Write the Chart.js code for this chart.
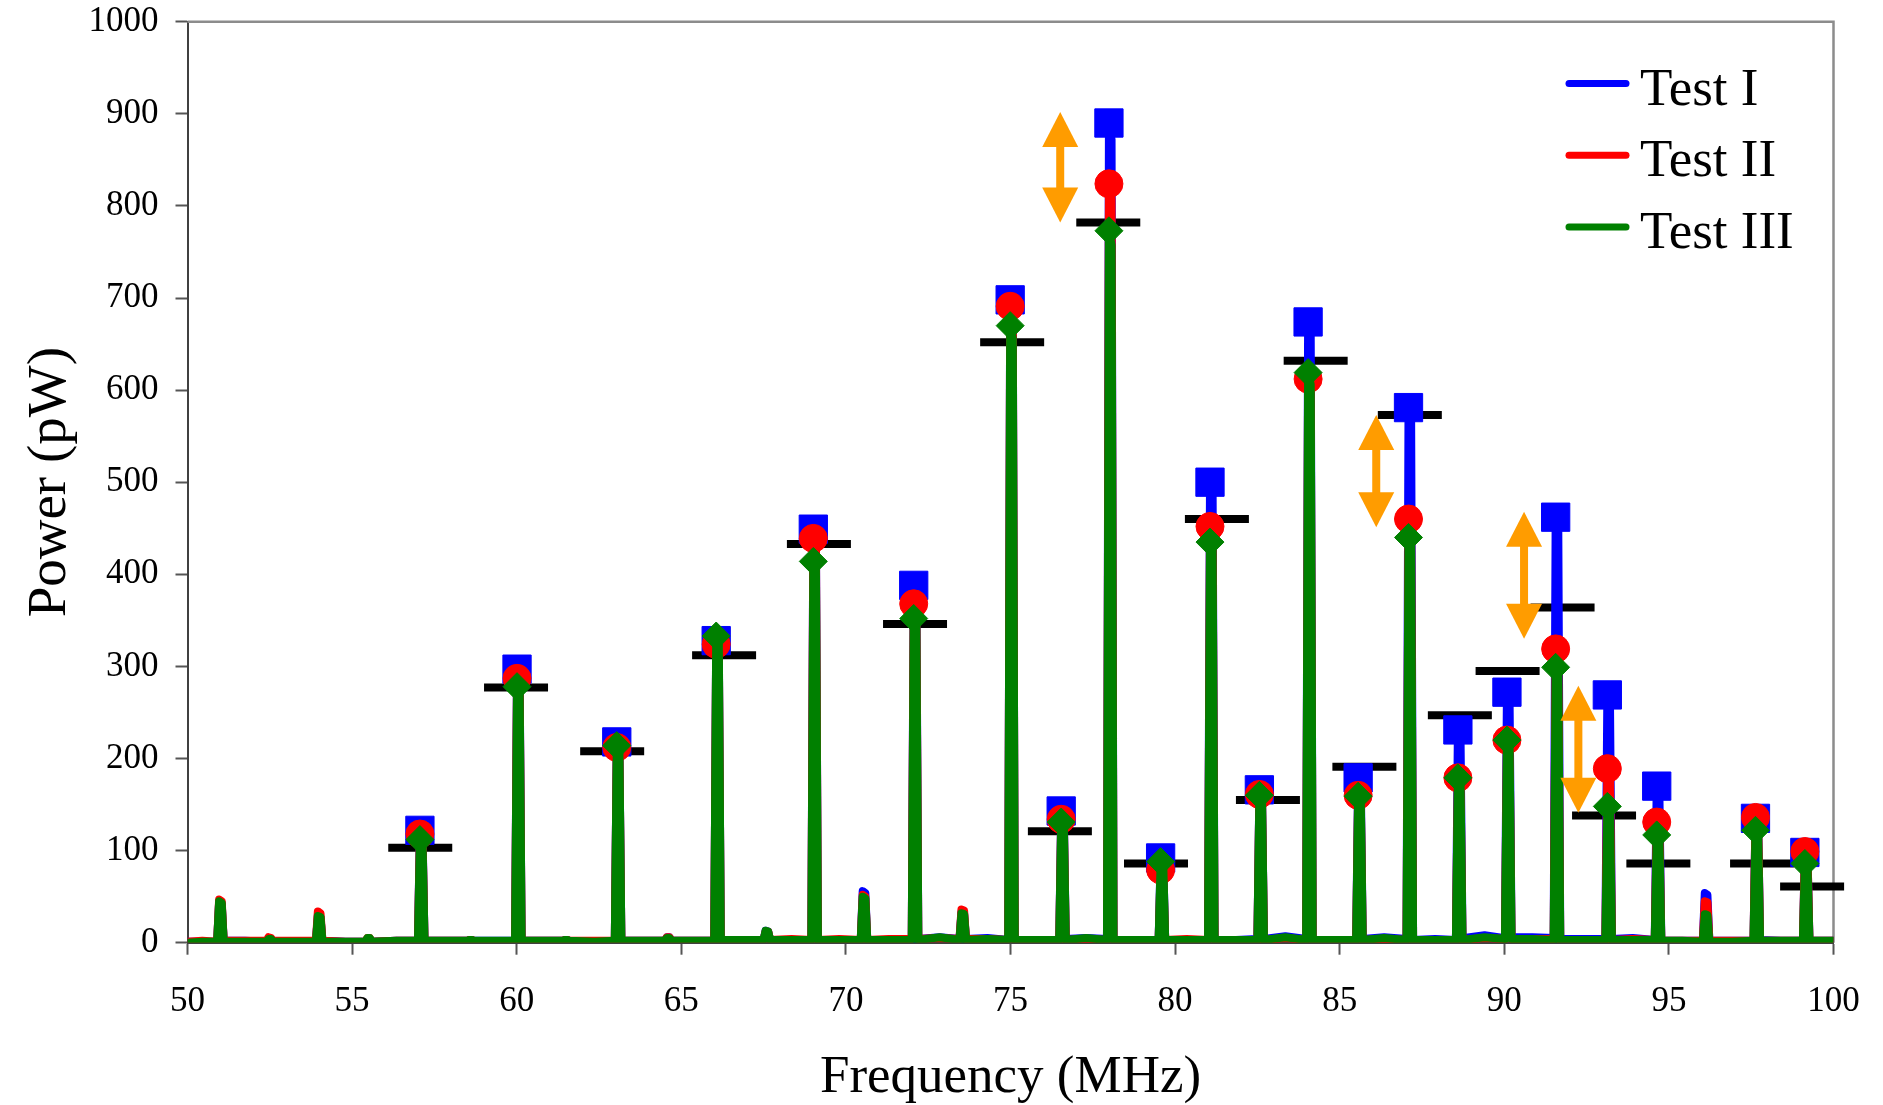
<!DOCTYPE html>
<html>
<head>
<meta charset="utf-8">
<script src="https://cdn.jsdelivr.net/npm/chart.js@4.4.1/dist/chart.umd.min.js"></script>
<style>
  html, body { margin: 0; padding: 0; background: #fff; }
  #wrap { width: 1883px; height: 1105px; }
</style>
</head>
<body>
<div id="wrap"><canvas id="spectrum" width="1883" height="1105"></canvas></div>
<script>
// frequency samples (MHz), one row per harmonic: left foot, two top samples, right foot, gap
const freq = [
  50.0, 50.45,
  50.9, 50.96, 51.04, 51.1, 51.75,
  52.4, 52.46, 52.54, 52.6, 53.25,
  53.9, 53.96, 54.04, 54.1, 54.8,
  55.4, 55.46, 55.54, 55.6, 56.35,
  57.0, 57.06, 57.14, 57.2, 57.85,
  58.5, 58.56, 58.64, 58.7, 59.3,
  59.95, 60.01, 60.09, 60.15, 60.8,
  61.4, 61.46, 61.54, 61.6, 62.35,
  62.98, 63.04, 63.12, 63.18, 63.85,
  64.5, 64.56, 64.64, 64.7, 65.35,
  66.0, 66.06, 66.14, 66.2, 66.85,
  67.5, 67.56, 67.64, 67.7, 68.35,
  68.95, 69.01, 69.09, 69.15, 69.8,
  70.45, 70.51, 70.59, 70.65, 71.3,
  72.0, 72.06, 72.14, 72.2, 72.85,
  73.45, 73.51, 73.59, 73.65, 74.3,
  74.93, 74.99, 75.07, 75.13, 75.8,
  76.48, 76.54, 76.62, 76.68, 77.3,
  77.93, 77.99, 78.07, 78.13, 78.8,
  79.5, 79.56, 79.64, 79.7, 80.35,
  81.0, 81.06, 81.14, 81.2, 81.85,
  82.5, 82.56, 82.64, 82.7, 83.35,
  83.98, 84.04, 84.12, 84.18, 84.85,
  85.5, 85.56, 85.64, 85.7, 86.35,
  87.03, 87.09, 87.17, 87.23, 87.9,
  88.53, 88.59, 88.67, 88.73, 89.4,
  90.02, 90.08, 90.16, 90.22, 90.85,
  91.5, 91.56, 91.64, 91.7, 92.4,
  93.07, 93.13, 93.21, 93.27, 93.9,
  94.57, 94.63, 94.71, 94.77, 95.4,
  96.03, 96.09, 96.17, 96.23, 96.9,
  97.57, 97.63, 97.71, 97.77, 98.4,
  99.07, 99.13, 99.21, 99.27, 100.0
];

// power (pW)
const testI = [
  1, 1,
  1, 44, 42, 2, 2,
  1, 4, 4, 1, 1,
  1, 30, 28, 2, 1,
  1, 4, 4, 1, 2,
  2, 122, 119, 2, 2,
  2, 3, 3, 2, 2,
  2, 297, 290, 2, 2,
  2, 3, 3, 2, 1,
  2, 218, 212, 2, 2,
  2, 6, 6, 2, 2,
  2, 328, 320, 3, 3,
  3, 13, 12, 3, 3,
  3, 449, 440, 3, 3,
  3, 56, 54, 3, 3,
  3, 388, 380, 4, 6,
  4, 33, 32, 4, 5,
  3, 698, 685, 3, 3,
  3, 143, 139, 4, 5,
  4, 890, 872, 3, 3,
  3, 92, 89, 3, 3,
  3, 500, 490, 3, 3,
  4, 166, 162, 4, 7,
  4, 674, 660, 3, 3,
  3, 179, 175, 4, 6,
  4, 581, 570, 3, 4,
  3, 231, 226, 5, 8,
  5, 272, 266, 6, 6,
  5, 462, 452, 4, 4,
  4, 269, 263, 4, 5,
  3, 170, 166, 2, 2,
  2, 54, 52, 2, 2,
  2, 135, 132, 3, 2,
  2, 98, 96, 2, 2
];

const testII = [
  1, 2,
  1, 47, 45, 2, 2,
  2, 6, 5, 2, 2,
  2, 34, 32, 2, 1,
  1, 5, 5, 1, 2,
  2, 118, 115, 2, 2,
  2, 3, 3, 2, 1,
  2, 287, 281, 2, 2,
  2, 3, 3, 2, 2,
  2, 212, 207, 2, 2,
  2, 6, 6, 2, 2,
  2, 324, 317, 3, 3,
  3, 12, 12, 3, 4,
  3, 439, 430, 3, 4,
  3, 52, 50, 3, 4,
  4, 368, 360, 4, 5,
  4, 36, 35, 4, 4,
  3, 691, 677, 3, 3,
  3, 134, 131, 3, 4,
  3, 824, 807, 3, 3,
  3, 79, 77, 3, 4,
  3, 452, 443, 3, 3,
  3, 161, 158, 3, 5,
  3, 612, 600, 3, 3,
  3, 160, 157, 3, 4,
  3, 460, 451, 3, 3,
  3, 179, 175, 3, 5,
  4, 220, 215, 4, 4,
  4, 319, 312, 3, 3,
  3, 189, 185, 3, 4,
  3, 131, 128, 2, 2,
  2, 45, 44, 2, 2,
  2, 136, 133, 2, 2,
  2, 99, 97, 2, 2
];

const testIII = [
  0, 1,
  1, 45, 43, 1, 1,
  1, 4, 4, 1, 1,
  1, 29, 28, 1, 1,
  1, 5, 5, 1, 2,
  2, 112, 110, 2, 2,
  2, 3, 3, 2, 2,
  2, 278, 272, 2, 2,
  2, 3, 3, 2, 1,
  2, 214, 209, 2, 2,
  2, 5, 5, 2, 2,
  2, 333, 326, 3, 3,
  3, 13, 12, 3, 3,
  3, 414, 405, 3, 3,
  3, 50, 48, 3, 3,
  3, 352, 345, 3, 6,
  3, 32, 31, 3, 4,
  3, 670, 656, 3, 3,
  3, 131, 128, 3, 5,
  3, 773, 757, 3, 3,
  3, 88, 86, 3, 3,
  3, 435, 426, 3, 3,
  3, 160, 157, 3, 6,
  3, 619, 606, 3, 3,
  3, 159, 156, 3, 5,
  3, 440, 431, 3, 3,
  3, 179, 175, 3, 6,
  4, 220, 215, 4, 4,
  3, 299, 293, 3, 3,
  3, 148, 145, 3, 3,
  3, 117, 115, 2, 2,
  1, 31, 30, 1, 1,
  2, 122, 120, 2, 2,
  2, 86, 84, 2, 2
];

// samples that carry a marker (top of each labelled peak)
const markedFreq = [57.06, 60.01, 63.04, 66.06, 69.01, 72.06, 74.99, 76.54, 77.99, 79.56, 81.06,
  82.56, 84.04, 85.56, 87.09, 88.59, 90.08, 91.56, 93.13, 94.63, 97.63, 99.13];

// black reference levels
const dashFreq = [57.07, 59.98, 62.9, 66.3, 69.18, 72.1, 75.05, 76.5, 77.97, 79.42, 81.27,
  82.82, 84.27, 85.75, 87.13, 88.65, 90.1, 91.77, 93.03, 94.68, 97.83, 99.35];
const dashLevel = [103, 277, 208, 312, 433, 346, 652, 121, 782, 86, 460,
  155, 632, 191, 573, 247, 295, 364, 138, 86, 86, 61];

// orange double arrows
const arrowFreq = [76.51, 86.11, 90.6, 92.25];
const arrowTop = [902, 573, 468, 279];
const arrowBottom = [782, 451, 330, 141];

const xTicks = [50, 55, 60, 65, 70, 75, 80, 85, 90, 95, 100];

const serif = '"Liberation Serif", "Times New Roman", serif';
Chart.defaults.font.family = serif;
Chart.defaults.color = '#000';

const isMarked = i => markedFreq.includes(freq[i]);
const toPoints = vals => freq.map((f, i) => ({ x: f, y: vals[i] }));

function series(label, vals, color, style, radius, order) {
  return {
    label: label,
    inLegend: true,
    data: toPoints(vals),
    borderColor: color,
    backgroundColor: color,
    borderWidth: 8,
    borderJoinStyle: 'round',
    borderCapStyle: 'round',
    tension: 0,
    pointStyle: style,
    pointRadius: c => isMarked(c.dataIndex) ? radius : 0,
    pointBorderWidth: 1,
    pointBackgroundColor: color,
    pointBorderColor: color,
    order: order
  };
}

const framePlugin = {
  id: 'frame',
  beforeDatasetsDraw(chart) {
    const { ctx, chartArea: a } = chart;
    ctx.save();
    ctx.strokeStyle = '#8c8c8c';
    ctx.lineWidth = 2.5;
    ctx.beginPath();
    ctx.moveTo(a.left, a.top);
    ctx.lineTo(a.right, a.top);
    ctx.lineTo(a.right, a.bottom);
    ctx.stroke();
    ctx.restore();
  }
};

const arrowPlugin = {
  id: 'arrows',
  afterDatasetsDraw(chart) {
    const { ctx, scales: { x, y } } = chart;
    const headW = 18, headH = 35, shaft = 8;
    ctx.save();
    ctx.fillStyle = '#ff9c00';
    arrowFreq.forEach((f, i) => {
      const px = x.getPixelForValue(f);
      const top = y.getPixelForValue(arrowTop[i]);
      const bot = y.getPixelForValue(arrowBottom[i]);
      ctx.fillRect(px - shaft / 2, top + headH - 1, shaft, bot - top - 2 * headH + 2);
      ctx.beginPath();
      ctx.moveTo(px, top);
      ctx.lineTo(px + headW, top + headH);
      ctx.lineTo(px - headW, top + headH);
      ctx.closePath();
      ctx.fill();
      ctx.beginPath();
      ctx.moveTo(px, bot);
      ctx.lineTo(px + headW, bot - headH);
      ctx.lineTo(px - headW, bot - headH);
      ctx.closePath();
      ctx.fill();
    });
    ctx.restore();
  }
};

const legendPlugin = {
  id: 'insideLegend',
  afterDatasetsDraw(chart) {
    const ctx = chart.ctx;
    ctx.save();
    ctx.font = '53px ' + serif;
    ctx.textBaseline = 'alphabetic';
    ctx.textAlign = 'left';
    chart.data.datasets.filter(d => d.inLegend).forEach((ds, i) => {
      const y = 83.5 + i * 71.7;
      ctx.strokeStyle = ds.borderColor;
      ctx.lineWidth = 7;
      ctx.lineCap = 'round';
      ctx.beginPath();
      ctx.moveTo(1569, y);
      ctx.lineTo(1626, y);
      ctx.stroke();
      ctx.fillStyle = '#000';
      ctx.fillText(ds.label, 1640, y + 21);
    });
    ctx.restore();
  }
};

new Chart(document.getElementById('spectrum'), {
  type: 'line',
  data: {
    datasets: [
      series('Test I', testI, '#0000ff', 'rect', 20, 3),
      series('Test II', testII, '#ff0000', 'circle', 14, 2),
      series('Test III', testIII, '#008000', 'rectRot', 14, 1),
      {
        label: 'levels',
        data: dashFreq.map((f, i) => ({ x: f, y: dashLevel[i] })),
        showLine: false,
        pointStyle: 'line',
        pointRadius: 32,
        pointBorderWidth: 8,
        pointBorderColor: '#000',
        pointBackgroundColor: '#000',
        clip: false,
        order: 4
      }
    ]
  },
  options: {
    responsive: false,
    devicePixelRatio: 1,
    animation: false,
    events: [],
    layout: { autoPadding: false, padding: { left: 0, right: 49.5, top: 21.7, bottom: 0 } },
    plugins: { legend: { display: false }, tooltip: { enabled: false } },
    scales: {
      x: {
        type: 'linear',
        min: 50,
        max: 100,
        afterBuildTicks: s => { s.ticks = xTicks.map(v => ({ value: v })); },
        afterFit: s => { s.height = 162.3; s.paddingLeft = 0; s.paddingRight = 0; },
        border: { display: true, color: '#404040', width: 2 },
        grid: { drawOnChartArea: false, drawTicks: true, tickLength: 12, tickColor: '#555', tickWidth: 2 },
        ticks: { font: { size: 35 }, padding: 26, maxRotation: 0, color: '#000', callback: v => String(v) },
        title: { display: true, text: 'Frequency (MHz)', font: { size: 53 }, padding: { top: 0, bottom: -5 }, color: '#000' }
      },
      y: {
        min: 0,
        max: 1000,
        afterFit: s => { s.width = 187.5; s.paddingTop = 0; s.paddingBottom = 0; },
        border: { display: true, color: '#404040', width: 2 },
        grid: { drawOnChartArea: false, drawTicks: true, tickLength: 12, tickColor: '#555', tickWidth: 2 },
        ticks: { stepSize: 100, font: { size: 35 }, padding: 17, color: '#000', callback: v => String(v) },
        title: { display: true, text: 'Power (pW)', font: { size: 55 }, padding: { top: 18, bottom: 0 }, color: '#000' }
      }
    }
  },
  plugins: [framePlugin, arrowPlugin, legendPlugin]
});
</script>
</body>
</html>
